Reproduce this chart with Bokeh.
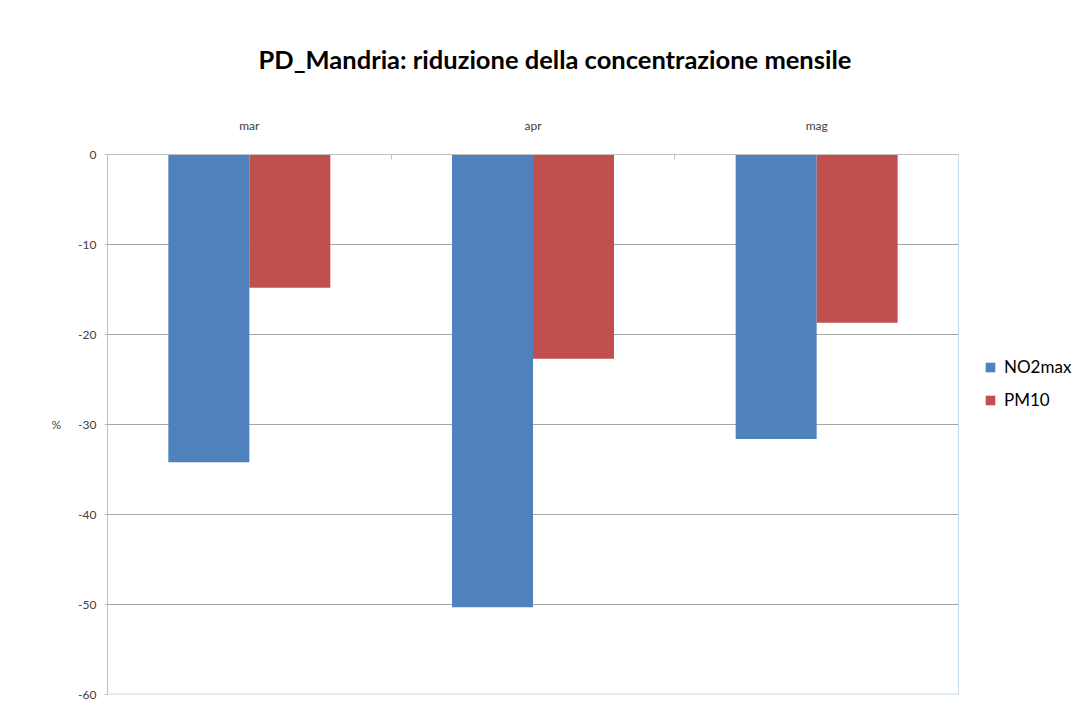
from bokeh.plotting import figure
from bokeh.models import Range1d, FixedTicker, Legend, LegendItem, ColumnDataSource, Span
from bokeh.embed import file_html
from bokeh.resources import INLINE

months = ["mar", "apr", "mag"]
no2max = [-34.2, -50.3, -31.6]
pm10 = [-14.8, -22.7, -18.7]
y_ticks = [0, -10, -20, -30, -40, -50, -60]
y_tick_labels = ["0", "-10", "-20", "-30", "-40", "-50", "-60"]

n = len(months)
centers = [i + 0.5 for i in range(n)]
bar_w = 0.2855
src = ColumnDataSource(dict(
    x_no2=[c - bar_w / 2 for c in centers],
    x_pm=[c + bar_w / 2 for c in centers],
    no2=no2max, pm=pm10,
))

# plot area: categories occupy 851 px; the frame continues to the right edge
# so that the legend sits inside it
frame_px, cat_px = 973, 851
p = figure(width=1080, height=704, output_backend="svg", toolbar_location=None,
           x_range=Range1d(0, n * frame_px / cat_px), y_range=Range1d(-60, 0),
           x_axis_location="above",
           min_border_left=107, min_border_right=0,
           min_border_top=154, min_border_bottom=10)

p.title.text = "PD_Mandria: riduzione della concentrazione mensile"
p.title.text_font = "Lato"
p.title.text_font_size = "25.5px"
p.title.text_font_style = "bold"
p.title.text_color = "#000000"
p.title.align = "left"
p.title.offset = 151
p.title.standoff = 81

# horizontal gridlines limited to the category area
inner = [t for t in y_ticks if t not in (0, -60)]
p.segment(x0=[0] * len(inner), x1=[n] * len(inner), y0=inner, y1=inner,
          line_color="#a6a6a6", line_width=1)
# light blue border at the bottom and right of the category area
p.segment(x0=[0], x1=[n], y0=[y_ticks[-1]], y1=[y_ticks[-1]],
          line_color="#c6d9f1", line_width=2)
p.add_layout(Span(location=n, dimension="height", line_color="#c6d9f1", line_width=1))

r1 = p.vbar(x="x_no2", top=0, bottom="no2", width=bar_w, source=src,
            fill_color="#4F81BD", line_color=None)
r2 = p.vbar(x="x_pm", top=0, bottom="pm", width=bar_w, source=src,
            fill_color="#C0504D", line_color=None)

# category axis along the zero line
xa = p.xaxis[0]
xa.bounds = (0, n)
xa.ticker = FixedTicker(ticks=centers, minor_ticks=list(range(1, n)))
xa.major_label_overrides = {c: m for c, m in zip(centers, months)}
xa.major_tick_line_color = None
xa.minor_tick_in = 5
xa.minor_tick_out = 0
xa.minor_tick_line_color = "#bfbfbf"
xa.axis_line_color = "#bfbfbf"
xa.major_label_text_font = "Lato"
xa.major_label_text_font_size = "12px"
xa.major_label_text_color = "#404040"
xa.major_label_standoff = 16

ya = p.yaxis[0]
ya.ticker = FixedTicker(ticks=y_ticks)
ya.major_label_overrides = {t: s for t, s in zip(y_ticks, y_tick_labels)}
ya.minor_tick_line_color = None
ya.major_tick_out = 3
ya.major_tick_in = 0
ya.major_tick_line_color = "#bfbfbf"
ya.axis_line_color = "#bfbfbf"
ya.major_label_text_font = "Lato"
ya.major_label_text_font_size = "12px"
ya.major_label_text_color = "#404040"
ya.major_label_standoff = 8
ya.axis_label = "%"
ya.axis_label_orientation = "horizontal"
ya.axis_label_text_font = "Lato"
ya.axis_label_text_font_style = "normal"
ya.axis_label_text_font_size = "12px"
ya.axis_label_text_color = "#404040"
ya.axis_label_standoff = 14

p.xgrid.grid_line_color = None
p.ygrid.grid_line_color = None
p.outline_line_color = None
p.background_fill_color = "white"
p.border_fill_color = "white"

legend = Legend(items=[LegendItem(label="NO2max", renderers=[r1]),
                       LegendItem(label="PM10", renderers=[r2])],
                location=(877, 284), orientation="vertical")
legend.label_text_font = "Lato"
legend.label_text_font_size = "17px"
legend.label_text_color = "#000000"
legend.glyph_width = 12
legend.glyph_height = 12
legend.label_height = 20
legend.spacing = 12
legend.padding = 0
legend.margin = 0
legend.label_standoff = 8
legend.border_line_color = None
legend.background_fill_alpha = 0
p.add_layout(legend, "center")

open("out.html", "w").write(file_html(p, INLINE))
